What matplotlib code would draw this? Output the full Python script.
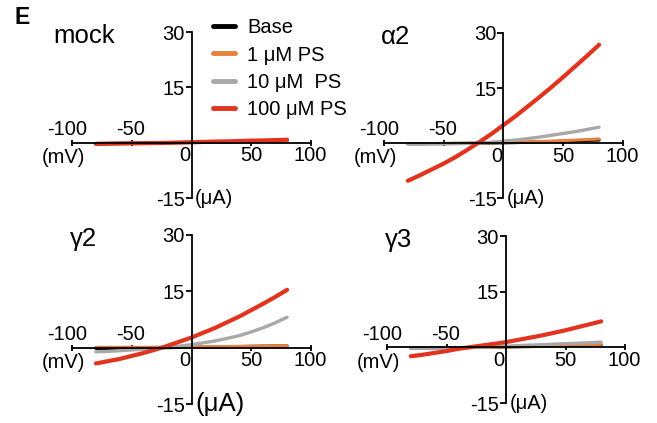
import matplotlib
matplotlib.use("Agg")
import matplotlib.pyplot as plt
from matplotlib.lines import Line2D

plt.rcParams['font.family'] = ['Liberation Sans', 'DejaVu Sans']

voltage = [-80, -70, -60, -50, -40, -30, -20, -10, 0, 10, 20, 30, 40, 50, 60, 70, 80]

panel_names = ["mock", "α2", "γ2", "γ3"]
series_labels = ["Base", "1 μM PS", "10 μM  PS", "100 μM PS"]
series_colors = ["#000000", "#E8803E", "#A8A8A8", "#E2331F"]
x_tick_labels = ["-100", "-50", "0", "50", "100"]
y_tick_labels = ["30", "15", "-15"]

mock_base = [-0.2, -0.2, -0.15, -0.1, -0.1, -0.05, 0.0, 0.0, 0.05, 0.1, 0.15, 0.2, 0.25, 0.3, 0.35, 0.4, 0.45]
mock_1uM = [-0.25, -0.2, -0.2, -0.15, -0.1, -0.05, 0.0, 0.05, 0.1, 0.15, 0.2, 0.25, 0.3, 0.35, 0.4, 0.45, 0.5]
mock_10uM = [-0.25, -0.2, -0.2, -0.15, -0.1, -0.05, 0.0, 0.05, 0.1, 0.15, 0.2, 0.25, 0.3, 0.4, 0.45, 0.5, 0.55]
mock_100uM = [-0.35, -0.3, -0.25, -0.2, -0.15, -0.1, -0.05, 0.05, 0.1, 0.2, 0.3, 0.35, 0.45, 0.55, 0.6, 0.7, 0.8]

a2_base = [-0.2, -0.2, -0.15, -0.15, -0.1, -0.1, -0.05, 0.0, 0.05, 0.1, 0.2, 0.3, 0.4, 0.5, 0.6, 0.7, 0.8]
a2_1uM = [-0.2, -0.2, -0.15, -0.1, -0.1, -0.05, 0.0, 0.05, 0.1, 0.2, 0.3, 0.4, 0.5, 0.65, 0.8, 0.95, 1.1]
a2_10uM = [-0.3, -0.3, -0.25, -0.25, -0.2, -0.1, 0.0, 0.2, 0.5, 0.8, 1.2, 1.6, 2.1, 2.6, 3.1, 3.7, 4.3]
a2_100uM = [-10.3, -8.8, -7.2, -5.6, -3.8, -1.8, 0.3, 2.5, 4.9, 7.3, 9.9, 12.5, 15.2, 18.0, 20.9, 23.8, 26.8]

g2_base = [-0.2, -0.2, -0.15, -0.1, -0.1, -0.05, 0.0, 0.05, 0.1, 0.15, 0.2, 0.25, 0.3, 0.35, 0.4, 0.45, 0.5]
g2_1uM = [0.1, 0.1, 0.1, 0.1, 0.1, 0.15, 0.15, 0.2, 0.2, 0.25, 0.3, 0.3, 0.35, 0.4, 0.45, 0.5, 0.55]
g2_10uM = [-1.1, -1.0, -0.8, -0.6, -0.4, -0.2, 0.1, 0.4, 0.8, 1.3, 1.8, 2.5, 3.2, 4.2, 5.3, 6.6, 8.1]
g2_100uM = [-4.2, -3.6, -3.0, -2.2, -1.4, -0.5, 0.5, 1.6, 2.7, 4.0, 5.3, 6.8, 8.3, 10.0, 11.7, 13.5, 15.4]

g3_base = [-0.2, -0.2, -0.15, -0.1, -0.1, -0.05, 0.0, 0.05, 0.1, 0.15, 0.2, 0.3, 0.35, 0.45, 0.5, 0.6, 0.7]
g3_1uM = [-0.2, -0.2, -0.15, -0.1, -0.1, -0.05, 0.0, 0.05, 0.1, 0.2, 0.25, 0.35, 0.4, 0.5, 0.6, 0.7, 0.8]
g3_10uM = [-0.3, -0.25, -0.2, -0.15, -0.1, 0.0, 0.1, 0.2, 0.3, 0.45, 0.6, 0.7, 0.85, 1.0, 1.1, 1.25, 1.4]
g3_100uM = [-2.4, -2.0, -1.5, -1.0, -0.4, 0.05, 0.5, 0.95, 1.4, 2.0, 2.6, 3.2, 3.9, 4.6, 5.4, 6.2, 7.0]

panel_data = [
    [mock_base, mock_1uM, mock_10uM, mock_100uM],
    [a2_base, a2_1uM, a2_10uM, a2_100uM],
    [g2_base, g2_1uM, g2_10uM, g2_100uM],
    [g3_base, g3_1uM, g3_10uM, g3_100uM],
]

W, H = 657, 423
fig = plt.figure(figsize=(W / 100, H / 100), dpi=100)

# axes rectangles in pixels: left, top(data 30), right, bottom(data -15)
rects_px = [
    (72, 32, 311, 198),
    (384, 33, 623, 198),
    (72, 235, 311, 404),
    (387, 236, 625, 403),
]
line_widths = [2.2, 2.2, 2.4, 3.0]
ua_sizes = [14.5, 14.5, 18.5, 14.5]

fs = 14.5
for i, (name, data, (l, t, r, b)) in enumerate(zip(panel_names, panel_data, rects_px)):
    ax = fig.add_axes([l / W, 1 - b / H, (r - l) / W, (b - t) / H])
    ax.set_xlim(-100, 100)
    ax.set_ylim(-15, 30)
    for s, col, lw in zip(data, series_colors, line_widths):
        ax.plot(voltage, s, color=col, lw=lw, solid_capstyle='round', clip_on=False)
    ax.spines['left'].set_position(('data', 0))
    ax.spines['bottom'].set_position(('data', 0))
    ax.spines['top'].set_visible(False)
    ax.spines['right'].set_visible(False)
    for sp in ('left', 'bottom'):
        ax.spines[sp].set_linewidth(1.3)
    ax.set_xticks([-100, -50, 50, 100])
    ax.set_xticklabels([])
    ax.tick_params(axis='x', direction='inout', length=5, width=1.3)
    ax.set_yticks([30, 15, -15])
    ax.set_yticklabels(y_tick_labels, fontsize=fs)
    ax.tick_params(axis='y', direction='out', length=4, width=1.3, pad=1)
    # x tick labels
    ax.text(-104, 1.0, x_tick_labels[0], ha='center', va='bottom', fontsize=fs)
    ax.text(-51, 1.0, x_tick_labels[1], ha='center', va='bottom', fontsize=fs)
    ax.text(-6, -1.0, x_tick_labels[2], ha='center', va='top', fontsize=fs)
    ax.text(50, -1.0, x_tick_labels[3], ha='center', va='top', fontsize=fs)
    ax.text(99, -1.0, x_tick_labels[4], ha='center', va='top', fontsize=fs)
    ax.text(-107, -1.4, "(mV)", ha='center', va='top', fontsize=fs)
    ax.text(3, -15, "(μA)", ha='left', va='center', fontsize=ua_sizes[i])
    ax.text(-90, 29, name, ha='center', va='center', fontsize=18.5)
    ax.patch.set_alpha(0)

fig.text(22 / W, 1 - 18 / H, "E", fontsize=16.5, fontweight='bold', ha='center', va='center')

handles = [Line2D([0], [0], color=c, lw=3.5, solid_capstyle='round') for c in series_colors]
fig.legend(handles, series_labels, loc='upper left', bbox_to_anchor=(203 / W, 1 - 8 / H),
           frameon=False, fontsize=fs, handlelength=1.1, handletextpad=0.6,
           labelspacing=0.42, borderpad=0)

fig.savefig("out.png", dpi=100)
